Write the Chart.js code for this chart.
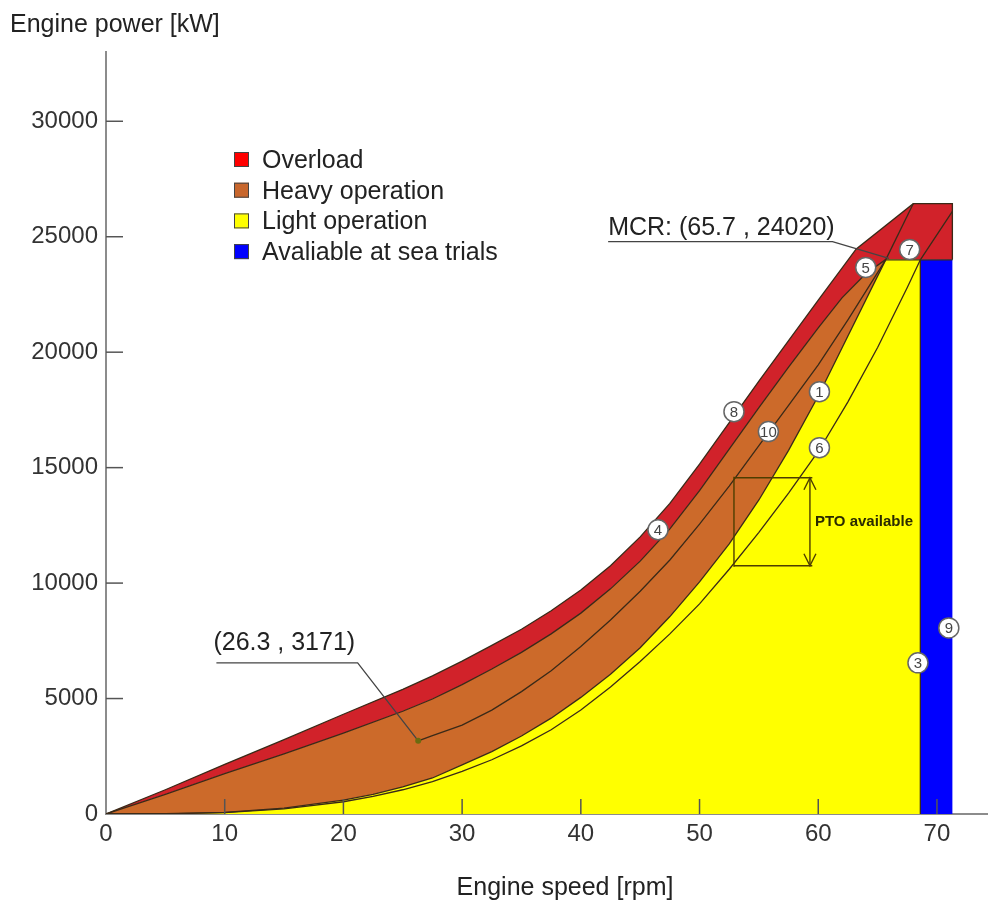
<!DOCTYPE html>
<html>
<head>
<meta charset="utf-8">
<script src="https://cdn.jsdelivr.net/npm/chart.js@4.4.0/dist/chart.umd.min.js"></script>
<style>
  html, body { margin: 0; padding: 0; background: #fff; }
  #wrap { width: 988px; height: 904px; }
</style>
</head>
<body>
<div id="wrap"><canvas id="engineChart" width="988" height="904"></canvas></div>
<script>
// engine speed [rpm] vs engine power [kW]
const overloadX = [0, 5, 10, 15, 20, 25, 27.5, 30, 32.5, 35, 37.5, 40, 42.5, 45, 47.5, 50, 52.5, 55, 57.5, 60, 63.2, 68, 71.3, 71.3];
const overloadY = [0, 1050, 2150, 3220, 4320, 5400, 5980, 6620, 7300, 8000, 8800, 9700, 10750, 12000, 13450, 15150, 16950, 18750, 20500, 22250, 24470, 26430, 26430, 24000];

const heavyX = [0, 5, 10, 15, 20, 25, 27.5, 30, 32.5, 35, 37.5, 40, 42.5, 45, 47.5, 50, 52.5, 55, 57.5, 60, 62, 64, 65.7];
const heavyY = [0, 850, 1750, 2600, 3500, 4450, 4980, 5600, 6280, 7000, 7800, 8700, 9750, 10950, 12350, 14000, 15800, 17600, 19350, 21050, 22350, 23400, 24020];

// line 1 (heavy / light border)
const lightX = [0, 5, 10, 15, 20, 22.5, 25, 27.5, 30, 32.5, 35, 37.5, 40, 42.5, 45, 47.5, 50, 52.5, 55, 57.5, 60, 62.5, 65.7];
const lightY = [0, 10, 70, 250, 600, 850, 1170, 1560, 2130, 2700, 3380, 4150, 5050, 6050, 7200, 8550, 10050, 11700, 13600, 15750, 18100, 20700, 24020];

// line 6 (propeller curve)
const propX = [0, 5, 10, 15, 20, 22.5, 25, 27.5, 30, 32.5, 35, 37.5, 40, 42.5, 45, 47.5, 50, 52.5, 55, 57.5, 60, 62.5, 65, 67.5, 68.6, 71.3];
const propY = [0, 8, 60, 220, 530, 760, 1050, 1400, 1850, 2350, 2950, 3650, 4500, 5500, 6600, 7800, 9100, 10600, 12200, 13900, 15700, 17850, 20200, 22800, 24000, 26100];

// line 10
const line10X = [26.3, 27.5, 30, 32.5, 35, 37.5, 40, 42.5, 45, 47.5, 50, 52.5, 55, 57.5, 60, 62.5, 65.7];
const line10Y = [3171, 3390, 3850, 4500, 5300, 6200, 7250, 8400, 9650, 11000, 12550, 14200, 15950, 17700, 19450, 21400, 24020];

// line 7
const line7X = [65.7, 68];
const line7Y = [24020, 26430];

const mcr = [65.7, 24020];
const ratedPower = 24000;
const seaTrialX = [68.6, 71.3];

const markerX = [60.1, 68.4, 46.5, 64.0, 60.1, 67.7, 52.9, 71.0, 55.8];
const markerY = [18290, 6545, 12310, 23670, 15865, 24450, 17425, 8060, 16560];
const markerText = ['1', '3', '4', '5', '6', '7', '8', '9', '10'];

const xTicks = [0, 10, 20, 30, 40, 50, 60, 70];
const yTicks = [0, 5000, 10000, 15000, 20000, 25000, 30000];

const legendItems = [
  ['Overload', '#ff0000'],
  ['Heavy operation', '#c8662c'],
  ['Light operation', '#ffff00'],
  ['Avaliable at sea trials', '#0000ff']
];

const FONT = '"Liberation Sans", Arial, sans-serif';

function pts(xs, ys) {
  return xs.map((x, i) => ({ x: x, y: ys[i] }));
}

const redShape = pts(overloadX, overloadY).concat([{ x: mcr[0], y: mcr[1] }], pts(heavyX, heavyY).reverse());
const brownShape = pts(heavyX, heavyY).concat(pts(lightX, lightY).reverse());
const yellowShape = pts(lightX, lightY).concat([{ x: seaTrialX[0], y: ratedPower }, { x: seaTrialX[0], y: 0 }]);
const blueShape = [
  { x: seaTrialX[0], y: 0 }, { x: seaTrialX[0], y: ratedPower },
  { x: seaTrialX[1], y: ratedPower }, { x: seaTrialX[1], y: 0 }
];

function area(data, color) {
  return { data: data, fill: 'shape', backgroundColor: color, borderWidth: 0, pointRadius: 0, tension: 0, order: 3 };
}
function curve(data, width) {
  return { data: data, fill: false, borderColor: '#3a2a18', borderWidth: width || 1.3, pointRadius: 0, tension: 0, order: 2 };
}

const datasets = [
  area(yellowShape, '#ffff00'),
  area(blueShape, '#0000ff'),
  area(brownShape, '#cc6a2a'),
  area(redShape, '#d1222a'),
  curve(pts(overloadX, overloadY)),
  curve(pts(heavyX, heavyY)),
  curve(pts(lightX, lightY)),
  curve(pts(propX, propY)),
  curve(pts(line10X, line10Y)),
  curve(pts(line7X, line7Y)),
  curve([{ x: mcr[0], y: ratedPower }, { x: seaTrialX[1], y: ratedPower }]),
  curve([{ x: seaTrialX[0], y: 0 }, { x: seaTrialX[0], y: ratedPower }]),
  {
    data: pts(markerX, markerY), showLine: false, order: 1,
    pointRadius: 10, pointBackgroundColor: '#ffffff', pointBorderColor: '#666666', pointBorderWidth: 1.5
  }
];
const MARKER_SET = datasets.length - 1;

function seg(ctx, x1, y1, x2, y2) {
  ctx.beginPath();
  ctx.moveTo(x1, y1);
  ctx.lineTo(x2, y2);
  ctx.stroke();
}

const decorations = {
  id: 'decorations',
  afterDatasetsDraw(chart) {
    const { ctx, chartArea: a, scales: { x, y } } = chart;
    ctx.save();

    // tick marks point into the plot
    ctx.strokeStyle = '#555';
    ctx.lineWidth = 1.5;
    xTicks.slice(1).forEach(v => { const px = x.getPixelForValue(v); seg(ctx, px, a.bottom, px, a.bottom - 15); });
    yTicks.slice(1).forEach(v => { const py = y.getPixelForValue(v); seg(ctx, a.left, py, a.left + 17, py); });

    // marker numbers
    ctx.fillStyle = '#444';
    ctx.font = '15px ' + FONT;
    ctx.textAlign = 'center';
    ctx.textBaseline = 'middle';
    chart.getDatasetMeta(MARKER_SET).data.forEach((p, i) => {
      ctx.fillText(markerText[i], p.x, p.y + 1);
    });

    // (26.3 , 3171) note
    const px0 = x.getPixelForValue(26.3), py0 = y.getPixelForValue(3171);
    const ulY = y.getPixelForValue(6545);
    const ulL = x.getPixelForValue(9.3), ulR = x.getPixelForValue(21.2);
    ctx.strokeStyle = '#444';
    ctx.lineWidth = 1.3;
    ctx.beginPath();
    ctx.moveTo(ulL, ulY); ctx.lineTo(ulR, ulY); ctx.lineTo(px0, py0);
    ctx.stroke();
    ctx.fillStyle = '#6b6b10';
    ctx.beginPath(); ctx.arc(px0, py0, 3, 0, Math.PI * 2); ctx.fill();
    ctx.fillStyle = '#222';
    ctx.font = '25px ' + FONT;
    ctx.textAlign = 'left';
    ctx.textBaseline = 'alphabetic';
    ctx.fillText('(26.3 , 3171)', ulL - 3, ulY - 13);

    // MCR note
    const mx = x.getPixelForValue(mcr[0]), my = y.getPixelForValue(mcr[1]);
    const mY = y.getPixelForValue(24790);
    const mL = x.getPixelForValue(42.3), mR = x.getPixelForValue(61.2);
    ctx.strokeStyle = '#444';
    ctx.beginPath();
    ctx.moveTo(mL, mY); ctx.lineTo(mR, mY); ctx.lineTo(mx + 3, my - 1);
    ctx.stroke();
    ctx.fillText('MCR: (65.7 , 24020)', mL, mY - 7);

    // PTO box
    const bl = x.getPixelForValue(52.9), br = x.getPixelForValue(59.5);
    const bt = y.getPixelForValue(14560), bb = y.getPixelForValue(10750);
    const ax = x.getPixelForValue(59.3);
    ctx.strokeStyle = '#4d3d00';
    ctx.lineWidth = 1.4;
    seg(ctx, bl, bt - 1, bl, bb + 1);
    seg(ctx, bl, bt, br, bt);
    seg(ctx, bl, bb, br, bb);
    seg(ctx, ax, bt, ax, bb);
    ctx.beginPath();
    ctx.moveTo(ax - 6, bt + 12); ctx.lineTo(ax, bt); ctx.lineTo(ax + 6, bt + 12);
    ctx.moveTo(ax - 6, bb - 12); ctx.lineTo(ax, bb); ctx.lineTo(ax + 6, bb - 12);
    ctx.stroke();
    ctx.fillStyle = '#2a2a00';
    ctx.font = 'bold 15px ' + FONT;
    ctx.textBaseline = 'middle';
    ctx.fillText('PTO available', ax + 5, (bt + bb) / 2);

    ctx.restore();
  },
  afterDraw(chart) {
    const { ctx } = chart;
    ctx.save();
    ctx.fillStyle = '#222';
    ctx.font = '25px ' + FONT;
    ctx.textBaseline = 'alphabetic';
    ctx.textAlign = 'left';
    ctx.fillText('Engine power [kW]', 10, 32);
    ctx.textAlign = 'center';
    ctx.fillText('Engine speed [rpm]', 565, 895);

    // legend
    ctx.textAlign = 'left';
    ctx.textBaseline = 'middle';
    legendItems.forEach((item, i) => {
      const cy = 160 + i * 30.7;
      ctx.fillStyle = item[1];
      ctx.fillRect(234, cy - 8, 15, 15);
      ctx.strokeStyle = '#444';
      ctx.lineWidth = 1;
      ctx.strokeRect(234.5, cy - 7.5, 14, 14);
      ctx.fillStyle = '#222';
      ctx.fillText(item[0], 262, cy + 1);
    });
    ctx.restore();
  }
};

new Chart(document.getElementById('engineChart').getContext('2d'), {
  type: 'line',
  data: { datasets: datasets },
  options: {
    responsive: false,
    animation: false,
    layout: { autoPadding: false, padding: { top: 52, right: 0, left: 0, bottom: 0 } },
    plugins: { legend: { display: false }, tooltip: { enabled: false } },
    scales: {
      x: {
        type: 'linear', min: 0, max: 74.3,
        afterBuildTicks: s => { s.ticks = xTicks.map(v => ({ value: v })); },
        afterFit: s => { s.height = 90; s.paddingLeft = 0; s.paddingRight = 0; },
        grid: { display: false, drawTicks: false },
        border: { display: true, color: '#8c8c8c', width: 2 },
        ticks: { maxRotation: 0, padding: 6, color: '#333', font: { size: 24, family: FONT }, callback: v => String(v) }
      },
      y: {
        type: 'linear', min: 0, max: 33000,
        afterBuildTicks: s => { s.ticks = yTicks.map(v => ({ value: v })); },
        afterFit: s => { s.width = 106; s.paddingTop = 0; s.paddingBottom = 0; },
        grid: { display: false, drawTicks: false },
        border: { display: true, color: '#8c8c8c', width: 2 },
        ticks: { padding: 8, color: '#333', font: { size: 24, family: FONT }, callback: v => String(v) }
      }
    }
  },
  plugins: [decorations]
});
</script>
</body>
</html>
